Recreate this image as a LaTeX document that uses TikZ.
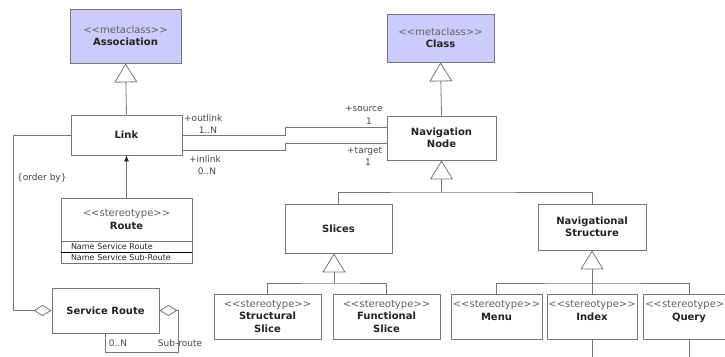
\documentclass[tikz,border=0pt]{standalone}
\usepackage{fontspec}
\newfontfamily\umlfont{DejaVu Sans}
\usetikzlibrary{arrows.meta}
\definecolor{metafill}{RGB}{204,204,252}
\definecolor{umlline}{RGB}{118,118,118}
\definecolor{umltext}{RGB}{35,35,35}
\newcommand{\stereo}[1]{{\color{black!62}<<#1>>}\\}
\begin{document}
\begin{tikzpicture}[
	x=1pt, y=-1pt,
	font=\umlfont\fontsize{10}{12.5}\selectfont,
	box/.style={ draw=umlline, line width=0.8pt, fill=white, text=umltext, align=center, inner sep=0pt },
	metabox/.style={ box, fill=metafill },
	attrbox/.style={ box, minimum width=131, minimum height=11, text width=111, align=left, font=\umlfont\fontsize{8}{9}\selectfont },
	conn/.style={ draw=umlline, line width=0.8pt },
	gen/.style={ conn, -{Triangle[open,length=19pt,width=23pt]} },
	aggr/.style={ conn, {Diamond[open,length=18pt,width=11pt]}- },
	role/.style={ font=\umlfont\fontsize{9}{10}\selectfont, text=black!72, inner sep=0pt }
]
\useasboundingbox (0,0) rectangle (725,356);
\clip (0,0) rectangle (725,356);

% left part
\node at (125.5,36) (assoc) [metabox, minimum width=111, minimum height=54] {\stereo{metaclass}\textbf{Association}};
\node at (126.5,135) (link) [box, minimum width=111, minimum height=40] {\textbf{Link}};
\node at (126.5,219.5) (route) [box, minimum width=131, minimum height=43, font=\umlfont\fontsize{10}{13}\selectfont] {\stereo{stereotype}\textbf{Route}};
\node at (126.5,246.5) (routeattra) [attrbox] {Name Service Route};
\node at (126.5,257.5) (routeattrb) [attrbox] {Name Service Sub-Route};
\draw[line width=1.3pt] (routeattra.south west) -- (routeattra.south east);
\node at (105.5,310.5) (servroute) [box, minimum width=107, minimum height=45] {\textbf{Service Route}};

\draw[gen] (link.north) -- (assoc.south);
\draw[conn, -{Latex[length=6pt,width=5pt,color=black!85]}] (route.north) -- (link.south);
\draw[aggr] (servroute.west) -- ++(-38,0) |- (link.west);
\draw[aggr] (servroute.east) -- ++(19,0) -- ++(0,41.5) -| (servroute.south);

\node at (17,178) (orderby) [role, anchor=west] {\{order by\}};
\node at (118,343) (loopmult) [role] {0..N};
\node at (180,343) (looprole) [role] {Sub-route};

% right part
\node at (440.5,38) (class) [metabox, minimum width=107, minimum height=48] {\stereo{metaclass}\textbf{Class}};
\node at (441.5,138) (navnode) [box, minimum width=109, minimum height=44] {\textbf{Navigation}\\\textbf{Node}};
\node at (338.5,228.5) (slices) [box, minimum width=107, minimum height=49] {\textbf{Slices}};
\node at (592,227) (navstruct) [box, minimum width=108, minimum height=46] {\textbf{Navigational}\\\textbf{Structure}};
\node at (267.5,316.5) (structslice) [box, minimum width=107, minimum height=45] {\stereo{stereotype}\textbf{Structural}\\\textbf{Slice}};
\node at (386.5,316.5) (funcslice) [box, minimum width=107, minimum height=45] {\stereo{stereotype}\textbf{Functional}\\\textbf{Slice}};
\node at (496.5,316.5) (menu) [box, minimum width=91, minimum height=45] {\stereo{stereotype}\textbf{Menu}\\\mbox{}};
\node at (592,316.5) (index) [box, minimum width=90, minimum height=45] {\stereo{stereotype}\textbf{Index}\\\mbox{}};
\node at (689,316.5) (query) [box, minimum width=92, minimum height=45] {\stereo{stereotype}\textbf{Query}\\\mbox{}};

\draw[gen] (navnode.north) -- (class.south);
\coordinate (navbus) at (441.5,192);
\coordinate (slicebus) at (334,283);
\coordinate (structbus) at (592,283);
\draw[gen] (navbus) -- (navnode.south);
\draw[conn] (slices.north) |- (navbus) -| (navstruct.north);
\draw[gen] (slicebus) -- (slicebus |- slices.south);
\draw[conn] (structslice.north) |- (slicebus) -| (funcslice.north);
\draw[gen] (structbus) -- (navstruct.south);
\draw[conn] (menu.north) |- (structbus) -| (query.north);
\draw[conn] (index.north) -- (structbus);
\draw[conn] (index.south) -- ++(0,20);
\draw[conn] (query.south) -- ++(0,20);

% link to navigation node
\draw[conn] (link.east) -- ++(103,0) |- ([yshift=11pt]navnode.west);
\draw[conn] ([yshift=-15pt]link.east) -- ++(103,0) |- ([yshift=-5pt]navnode.west);
\node at (184,118) (outrole) [role, anchor=west] {+outlink};
\node at (208,130) (outmult) [role] {1..N};
\node at (189,159) (inrole) [role, anchor=west] {+inlink};
\node at (207,171) (inmult) [role] {0..N};
\node at (345,109) (srcrole) [role, anchor=west] {+source};
\node at (369,121) (srcmult) [role] {1};
\node at (347,151) (tgtrole) [role, anchor=west] {+target};
\node at (368,162) (tgtmult) [role] {1};

\end{tikzpicture}
\end{document}
